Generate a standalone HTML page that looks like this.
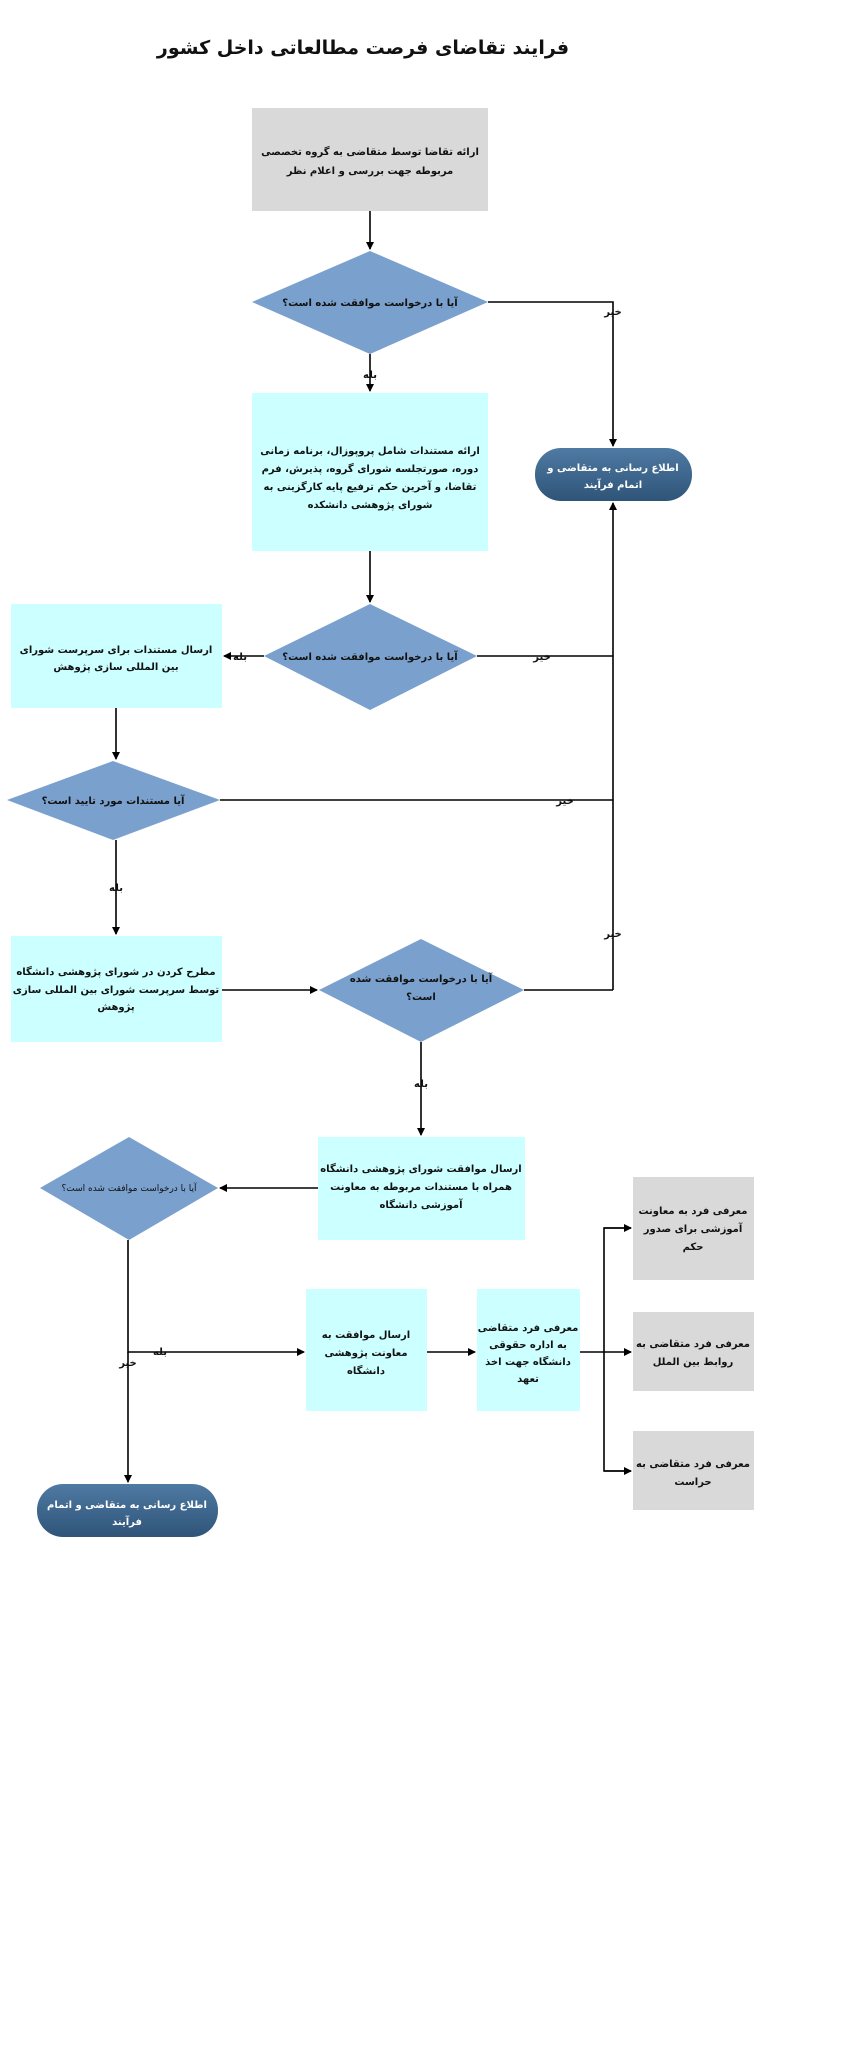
<!DOCTYPE html>
<html><head><meta charset="utf-8"><style>
html,body{margin:0;padding:0;background:#fff;}
svg{display:block;}
text{font-family:"DejaVu Sans","Liberation Sans",sans-serif;font-weight:bold;font-size:10px;fill:#111;text-anchor:middle;direction:rtl;}
</style></head><body>
<svg width="864" height="2047" viewBox="0 0 864 2047" xmlns="http://www.w3.org/2000/svg">
<defs>
<marker id="a" markerWidth="8" markerHeight="8" refX="7" refY="4" orient="auto" markerUnits="userSpaceOnUse"><path d="M0,0 L8,4 L0,8 z" fill="#000"/></marker>
<linearGradient id="t" x1="0" y1="0" x2="0" y2="1"><stop offset="0" stop-color="#4f7aa3"/><stop offset="1" stop-color="#2f5478"/></linearGradient>
</defs>
<text x="363" y="54" style="font-size:19px">فرایند تقاضای فرصت مطالعاتی داخل کشور</text>

<g stroke="#000" stroke-width="1.6" fill="none">
<line x1="370" y1="211" x2="370" y2="249" marker-end="url(#a)"/>
<polyline points="488,302 613,302 613,446" marker-end="url(#a)"/>
<line x1="370" y1="354" x2="370" y2="391" marker-end="url(#a)"/>
<line x1="370" y1="551" x2="370" y2="602" marker-end="url(#a)"/>
<line x1="264" y1="656" x2="224" y2="656" marker-end="url(#a)"/>
<polyline points="477,656 613,656"/>
<line x1="613" y1="990" x2="613" y2="503" marker-end="url(#a)"/>
<line x1="116" y1="708" x2="116" y2="759" marker-end="url(#a)"/>
<line x1="220" y1="800" x2="613" y2="800"/>
<line x1="116" y1="840" x2="116" y2="934" marker-end="url(#a)"/>
<line x1="222" y1="990" x2="317" y2="990" marker-end="url(#a)"/>
<polyline points="524,990 613,990"/>
<line x1="421" y1="1042" x2="421" y2="1135" marker-end="url(#a)"/>
<line x1="318" y1="1188" x2="220" y2="1188" marker-end="url(#a)"/>
<polyline points="128,1240 128,1352 304,1352" marker-end="url(#a)"/>
<line x1="128" y1="1352" x2="128" y2="1482" marker-end="url(#a)"/>
<line x1="427" y1="1352" x2="475" y2="1352" marker-end="url(#a)"/>
<line x1="580" y1="1352" x2="631" y2="1352" marker-end="url(#a)"/>
<polyline points="631,1228 604,1228 604,1471 631,1471"/>
<line x1="604" y1="1228" x2="631" y2="1228" marker-end="url(#a)"/>
<line x1="604" y1="1471" x2="631" y2="1471" marker-end="url(#a)"/>
</g>

<rect x="252" y="108" width="236" height="103" fill="#d9d9d9"/>
<rect x="252" y="393" width="236" height="158" fill="#ccffff"/>
<rect x="11" y="604" width="211" height="104" fill="#ccffff"/>
<rect x="11" y="936" width="211" height="106" fill="#ccffff"/>
<rect x="318" y="1137" width="207" height="103" fill="#ccffff"/>
<rect x="306" y="1289" width="121" height="122" fill="#ccffff"/>
<rect x="477" y="1289" width="103" height="122" fill="#ccffff"/>
<rect x="633" y="1177" width="121" height="103" fill="#d9d9d9"/>
<rect x="633" y="1312" width="121" height="79" fill="#d9d9d9"/>
<rect x="633" y="1431" width="121" height="79" fill="#d9d9d9"/>

<g fill="#7aa0cd">
<polygon points="370,251 488,302 370,354 252,302"/>
<polygon points="370,604 477,656 370,710 264,656"/>
<polygon points="113,761 220,800 113,840 7,800"/>
<polygon points="421,939 524,990 421,1042 319,990"/>
<polygon points="129,1137 218,1188 129,1240 40,1188"/>
</g>
<rect x="535" y="448" width="157" height="53" rx="26" fill="url(#t)"/>
<rect x="37" y="1484" width="181" height="53" rx="26" fill="url(#t)"/>

<text x="370" y="155">ارائه تقاضا توسط متقاضی به گروه تخصصی</text>
<text x="370" y="174">مربوطه جهت بررسی و اعلام نظر</text>
<text x="370" y="306">آیا با درخواست موافقت شده است؟</text>
<text x="613" y="315">خیر</text>
<text x="370" y="378">بله</text>
<text x="370" y="454">ارائه مستندات شامل پروپوزال، برنامه زمانی</text>
<text x="370" y="472">دوره، صورتجلسه شورای گروه، پذیرش، فرم</text>
<text x="370" y="490">تقاضا، و آخرین حکم ترفیع پایه کارگزینی به</text>
<text x="370" y="508">شورای پژوهشی دانشکده</text>
<text x="613" y="471" style="fill:#fff;font-size:10px">اطلاع رسانی به متقاضی و</text>
<text x="613" y="488" style="fill:#fff;font-size:10px">اتمام فرآیند</text>
<text x="370" y="660">آیا با درخواست موافقت شده است؟</text>
<text x="240" y="660">بله</text>
<text x="542" y="660">خیر</text>
<text x="116" y="653">ارسال مستندات برای سرپرست شورای</text>
<text x="116" y="670">بین المللی سازی پژوهش</text>
<text x="113" y="804">آیا مستندات مورد تایید است؟</text>
<text x="565" y="804">خیر</text>
<text x="116" y="891">بله</text>
<text x="116" y="975">مطرح کردن در شورای پژوهشی دانشگاه</text>
<text x="116" y="993">توسط سرپرست شورای بین المللی سازی</text>
<text x="116" y="1010">پژوهش</text>
<text x="421" y="982">آیا با درخواست موافقت شده</text>
<text x="421" y="1000">است؟</text>
<text x="613" y="937">خیر</text>
<text x="421" y="1087">بله</text>
<text x="421" y="1172">ارسال موافقت شورای پژوهشی دانشگاه</text>
<text x="421" y="1190">همراه با مستندات مربوطه به معاونت</text>
<text x="421" y="1208">آموزشی دانشگاه</text>
<text x="129" y="1191" style="font-weight:normal;font-size:9px">آیا با درخواست موافقت شده است؟</text>
<text x="160" y="1355">بله</text>
<text x="128" y="1366">خیر</text>
<text x="366" y="1338">ارسال موافقت به</text>
<text x="366" y="1356">معاونت پژوهشی</text>
<text x="366" y="1374">دانشگاه</text>
<text x="528" y="1331">معرفی فرد متقاضی</text>
<text x="528" y="1348">به اداره حقوقی</text>
<text x="528" y="1365">دانشگاه جهت اخذ</text>
<text x="528" y="1382">تعهد</text>
<text x="693" y="1214">معرفی فرد به معاونت</text>
<text x="693" y="1232">آموزشی برای صدور</text>
<text x="693" y="1250">حکم</text>
<text x="693" y="1347">معرفی فرد متقاضی به</text>
<text x="693" y="1365">روابط بین الملل</text>
<text x="693" y="1467">معرفی فرد متقاضی به</text>
<text x="693" y="1485">حراست</text>
<text x="127" y="1508" style="fill:#fff">اطلاع رسانی به متقاضی و اتمام</text>
<text x="127" y="1525" style="fill:#fff">فرآیند</text>
</svg>
</body></html>
